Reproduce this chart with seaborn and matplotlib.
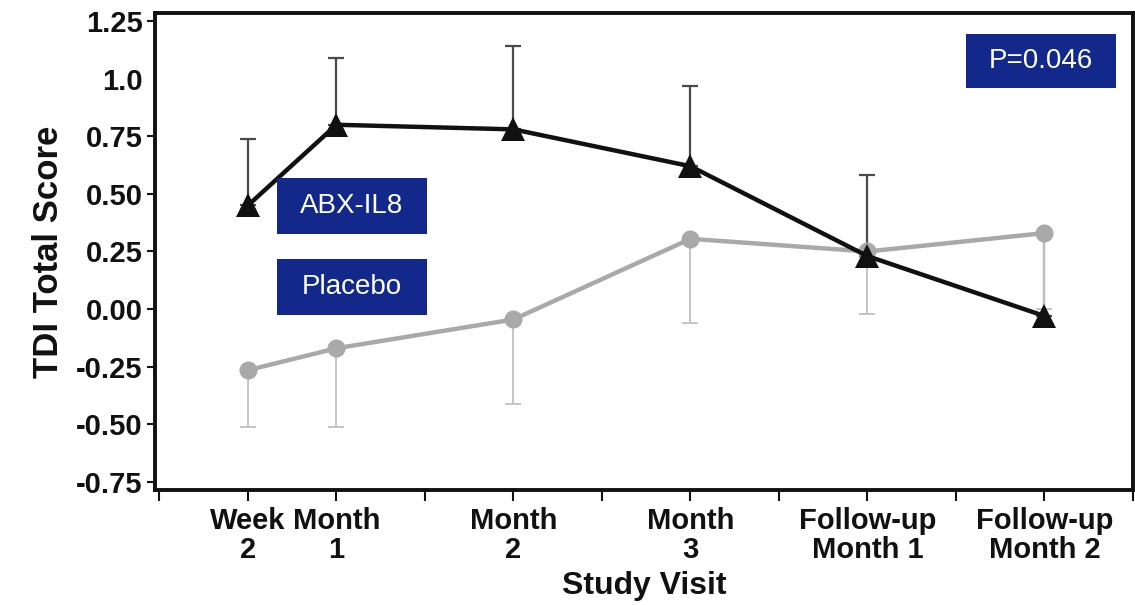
import matplotlib
matplotlib.use("Agg")
import matplotlib.pyplot as plt
from matplotlib.patches import Rectangle
import seaborn as sns
import pandas as pd
import numpy as np

# ---- data ----
visit_weeks = [2, 4, 8, 12, 16, 20]
visit_labels = ["Week\n2", "Month\n1", "Month\n2", "Month\n3",
                "Follow-up\nMonth 1", "Follow-up\nMonth 2"]
abx_mean = [0.45, 0.80, 0.78, 0.62, 0.23, -0.03]
abx_upper = [0.74, 1.09, 1.14, 0.97, 0.58, 0.32]
placebo_mean = [-0.265, -0.17, -0.045, 0.305, 0.25, 0.33]
placebo_lower = [-0.51, -0.51, -0.41, -0.06, -0.02, 0.00]
ytick_values = [-0.75, -0.50, -0.25, 0.00, 0.25, 0.50, 0.75, 1.00, 1.25]
ytick_labels = ["-0.75", "-0.50", "-0.25", "0.00", "0.25", "0.50", "0.75", "1.0", "1.25"]
group_names = ["ABX-IL8", "Placebo"]
p_text = "P=0.046"

sns.set_style("ticks")
plt.rcParams["font.family"] = ["Liberation Sans", "DejaVu Sans"]
plt.rcParams["text.color"] = "#111111"
plt.rcParams["axes.labelcolor"] = "#111111"
plt.rcParams["xtick.color"] = "#111111"
plt.rcParams["ytick.color"] = "#111111"

W, H = 1135, 605
fig = plt.figure(figsize=(W / 100, H / 100), dpi=100)
ax = fig.add_axes([155 / W, 1 - 490 / H, (1133 - 155) / W, (490 - 13) / H])

df = pd.DataFrame({
    "week": visit_weeks * 2,
    "score": abx_mean + placebo_mean,
    "group": [group_names[0]] * 6 + [group_names[1]] * 6,
})

black = "#111111"
gray = "#a9a9a9"

# error bars (one-sided)
abx_m = np.array(abx_mean)
pl_m = np.array(placebo_mean)
ax.errorbar(visit_weeks, abx_m, yerr=[np.zeros(6), np.array(abx_upper) - abx_m],
            fmt="none", ecolor="#4a4a4a", elinewidth=1.6, capsize=6, capthick=1.6, zorder=1)
ax.errorbar(visit_weeks, pl_m, yerr=[pl_m - np.array(placebo_lower), np.zeros(6)],
            fmt="none", ecolor="#c4c4c4", elinewidth=1.4, capsize=6, capthick=1.4, zorder=1)

sns.lineplot(data=df, x="week", y="score", hue="group", style="group",
             palette={group_names[0]: black, group_names[1]: gray},
             markers={group_names[0]: "^", group_names[1]: "o"},
             dashes=False, linewidth=3.2, markersize=14, markeredgewidth=0,
             legend=False, ax=ax, zorder=3)
for line in ax.lines:
    if line.get_color() == gray:
        line.set_zorder(2)
        line.set_markersize(13)
    elif line.get_color() == black:
        line.set_markersize(17)

ax.set_xlim(-0.1, 22.0)
ax.set_ylim(-0.785, 1.285)

ax.set_xticks(list(range(0, 23, 2)))
xt = []
for v in range(0, 23, 2):
    xt.append(visit_labels[visit_weeks.index(v)] if v in visit_weeks else "")
ax.set_xticklabels(xt, fontsize=21, fontweight="bold", linespacing=1.05)
ax.set_yticks(ytick_values)
ax.set_yticklabels(ytick_labels, fontsize=21, fontweight="bold")
ax.tick_params(axis="x", length=8, width=1.5, color=black, pad=4)
ax.tick_params(axis="y", length=6, width=1.5, color=black, pad=3)
ax.yaxis.get_major_ticks()[ytick_values.index(1.00)].tick1line.set_visible(False)

for s in ax.spines.values():
    s.set_linewidth(2.8)
    s.set_color(black)

ax.set_xlabel("Study Visit", fontsize=23, fontweight="bold", labelpad=5)
ax.set_ylabel("TDI Total Score", fontsize=25, fontweight="bold", labelpad=8)

# label boxes
navy = "#13288b"
def box(x0, y0, x1, y1, text):
    fig.patches.append(Rectangle((x0 / W, 1 - y1 / H), (x1 - x0) / W, (y1 - y0) / H,
                                 transform=fig.transFigure, facecolor=navy,
                                 edgecolor="none", zorder=5))
    fig.text((x0 + x1) / 2 / W, 1 - (y0 + y1) / 2 / H, text, color="white",
             fontsize=20, ha="center", va="center", zorder=6)

box(966, 34, 1116, 88, p_text)
box(277, 178, 427, 234, group_names[0])
box(277, 259, 427, 315, group_names[1])

fig.savefig("out.png", dpi=100, facecolor="white")
